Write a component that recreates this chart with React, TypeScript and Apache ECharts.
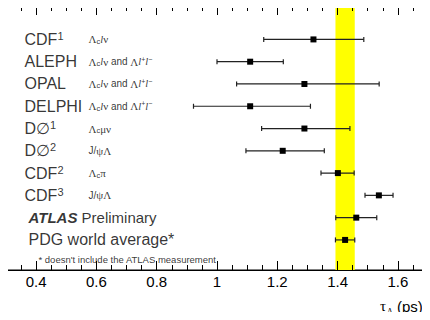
import React, { useEffect, useRef } from "react";
import * as echarts from "echarts";

// ---- data ----
const experiments = ["CDF", "ALEPH", "OPAL", "DELPHI", "D∅", "D∅", "CDF", "CDF", "ATLAS", "PDG world average*"];
const references = ["1", "", "", "", "1", "2", "2", "3", "", ""];
const channels = [
  "{g|Λ}{sub|c}{i|l}{g|ν}",
  "{g|Λ}{sub|c}{i|l}{g|ν}{s| and }{g|Λ}{i|l}{supc|+}{i|l}{supc|−}",
  "{g|Λ}{sub|c}{i|l}{g|ν}{s| and }{g|Λ}{i|l}{supc|+}{i|l}{supc|−}",
  "{g|Λ}{sub|c}{i|l}{g|ν}{s| and }{g|Λ}{i|l}{supc|+}{i|l}{supc|−}",
  "{g|Λ}{sub|c}{g|μν}",
  "{s|J/}{g|ψΛ}",
  "{g|Λ}{sub|c}{g|π}",
  "{s|J/}{g|ψΛ}",
  "",
  "",
];
const rowIndex = [0, 1, 2, 3, 4, 5, 6, 7, 8, 9];
const lifetimes = [1.32, 1.11, 1.29, 1.11, 1.29, 1.218, 1.401, 1.537, 1.462, 1.425];
const lowerBounds = [1.155, 1.0, 1.065, 0.922, 1.148, 1.096, 1.345, 1.491, 1.394, 1.393];
const upperBounds = [1.487, 1.22, 1.538, 1.31, 1.441, 1.356, 1.455, 1.584, 1.53, 1.457];
const pdgBand = [1.393, 1.457];
const footnote = "* doesn't include the ATLAS measurement";
const footnoteRow = 9.87;
const majorTicks = [0.4, 0.6, 0.8, 1.0, 1.2, 1.4, 1.6];
const minorTicks = [
  0.35, 0.45, 0.5, 0.55, 0.65, 0.7, 0.75, 0.85, 0.9, 0.95, 1.05, 1.1, 1.15,
  1.25, 1.3, 1.35, 1.45, 1.5, 1.55, 1.65,
];
const axisTitleParts = ["τ", "Λ", "b", "(ps)"];
const xMin = 0.3;
const xMax = 1.7;

export default function App() {
  const ref = useRef<HTMLDivElement>(null);
  useEffect(() => {
    const chart = echarts.init(ref.current!, null, { renderer: "svg" });
    const sans = "Liberation Sans, Arial, Helvetica, sans-serif";
    const serif = "Liberation Serif, Times New Roman, serif";

    const xCommon: any = {
      type: "value",
      min: xMin,
      max: xMax,
      gridIndex: 0,
      splitLine: { show: false },
      z: 10,
    };
    const tickStyle = { color: "#000", width: 1 };

    const rich: any = {
      n: { fontSize: 16, fontFamily: sans, color: "#000", lineHeight: 18 },
      sup: { fontSize: 11, fontFamily: sans, color: "#000", verticalAlign: "top", lineHeight: 10 },
      ab: { fontSize: 15, fontFamily: sans, fontWeight: "bold", fontStyle: "italic", color: "#000", lineHeight: 18 },
      n2: { fontSize: 15, fontFamily: sans, color: "#000", lineHeight: 18 },
      n3: { fontSize: 16, fontFamily: sans, color: "#000", lineHeight: 18 },
      g: { fontSize: 11, fontFamily: serif, color: "#000", lineHeight: 12 },
      s: { fontSize: 10, fontFamily: sans, color: "#000", lineHeight: 12 },
      i: { fontSize: 10.5, fontFamily: serif, fontStyle: "italic", color: "#000", lineHeight: 12 },
      sub: { fontSize: 7.5, fontFamily: sans, color: "#000", verticalAlign: "bottom", lineHeight: 6 },
      supc: { fontSize: 7, fontFamily: sans, color: "#000", verticalAlign: "top", lineHeight: 6 },
      fn: { fontSize: 9.5, fontFamily: sans, color: "#000", lineHeight: 10 },
    };

    const nameData = rowIndex.map((r, i) => {
      let text = "";
      let distance = 18;
      if (experiments[i] === "ATLAS") {
        text = "{ab|ATLAS}{n2| Preliminary}";
        distance = 22;
      } else if (i === 9) {
        text = `{n3|${experiments[i]}}`;
        distance = 22;
      } else {
        text = `{n|${experiments[i]}}` + (references[i] ? `{sup|${references[i]}}` : "");
      }
      return { value: [xMin, r], label: { show: true, position: "right", distance, formatter: text } };
    });
    const channelData = rowIndex
      .filter((i) => channels[i])
      .map((i) => ({
        value: [xMin, rowIndex[i]],
        label: { show: true, position: "right", distance: 82, formatter: channels[i] },
      }));
    const footData = [
      { value: [xMin, footnoteRow], label: { show: true, position: "right", distance: 32, formatter: `{fn|${footnote}}` } },
    ];

    const titleText = (text: string, x: number, y: number, font: string) => ({
      type: "text",
      x,
      y,
      style: { text, font, fill: "#000", align: "left", verticalAlign: "middle" },
    });

    const option: any = {
      animation: false,
      backgroundColor: "#fff",
      grid: {
        left: 6,
        top: 6,
        width: 422,
        height: 264,
        show: true,
        borderColor: "#000",
        borderWidth: 1,
        backgroundColor: "transparent",
      },
      xAxis: [
        {
          ...xCommon,
          position: "bottom",
          axisLine: { show: true, onZero: false, lineStyle: tickStyle },
          axisTick: { show: true, inside: true, length: 9, customValues: majorTicks, lineStyle: tickStyle },
          axisLabel: { show: true, customValues: majorTicks, margin: 4, fontSize: 15, fontFamily: sans, color: "#000" },
        },
        {
          ...xCommon,
          position: "bottom",
          axisLine: { show: false, onZero: false },
          axisTick: { show: true, inside: true, length: 5, customValues: minorTicks, lineStyle: tickStyle },
          axisLabel: { show: false },
        },
        {
          ...xCommon,
          position: "top",
          axisLine: { show: true, onZero: false, lineStyle: tickStyle },
          axisTick: { show: true, inside: true, length: 9, customValues: majorTicks, lineStyle: tickStyle },
          axisLabel: { show: false },
        },
        {
          ...xCommon,
          position: "top",
          axisLine: { show: false, onZero: false },
          axisTick: { show: true, inside: true, length: 5, customValues: minorTicks, lineStyle: tickStyle },
          axisLabel: { show: false },
        },
      ],
      yAxis: [
        {
          type: "value",
          min: -1.5,
          max: 10.35,
          inverse: true,
          position: "left",
          axisLine: { show: true, onZero: false, lineStyle: tickStyle },
          axisTick: { show: false },
          axisLabel: { show: false },
          splitLine: { show: false },
        },
        {
          type: "value",
          min: -1.5,
          max: 10.35,
          inverse: true,
          position: "right",
          axisLine: { show: true, onZero: false, lineStyle: tickStyle },
          axisTick: { show: false },
          axisLabel: { show: false },
          splitLine: { show: false },
        },
      ],
      series: [
        {
          type: "custom",
          name: "PDG band",
          xAxisIndex: 0,
          yAxisIndex: 0,
          z: 1,
          silent: true,
          data: [[pdgBand[0], pdgBand[1]]],
          encode: { x: [0, 1] },
          renderItem: (params: any, api: any) => {
            const cs = params.coordSys;
            const a = api.coord([api.value(0), 0]);
            const b = api.coord([api.value(1), 0]);
            return {
              type: "rect",
              shape: { x: a[0], y: cs.y, width: b[0] - a[0], height: cs.height },
              style: { fill: "#ffff00" },
            };
          },
        },
        {
          type: "custom",
          name: "measurements",
          xAxisIndex: 0,
          yAxisIndex: 0,
          z: 4,
          silent: true,
          data: rowIndex.map((r, i) => [lowerBounds[i], upperBounds[i], lifetimes[i], r]),
          encode: { x: [0, 1, 2], y: 3 },
          renderItem: (params: any, api: any) => {
            const row = api.value(3);
            const p0 = api.coord([api.value(0), row]);
            const p1 = api.coord([api.value(1), row]);
            const c = api.coord([api.value(2), row]);
            const ls = { stroke: "#222", lineWidth: 1.2 };
            const half = 2.5;
            const sq = 6;
            return {
              type: "group",
              children: [
                { type: "line", shape: { x1: p0[0], y1: p0[1], x2: p1[0], y2: p1[1] }, style: ls },
                { type: "line", shape: { x1: p0[0], y1: p0[1] - half, x2: p0[0], y2: p0[1] + half }, style: ls },
                { type: "line", shape: { x1: p1[0], y1: p1[1] - half, x2: p1[0], y2: p1[1] + half }, style: ls },
                { type: "rect", shape: { x: c[0] - sq / 2, y: c[1] - sq / 2, width: sq, height: sq }, style: { fill: "#000" } },
              ],
            };
          },
        },
        {
          type: "scatter",
          name: "names",
          xAxisIndex: 0,
          yAxisIndex: 0,
          symbolSize: 1,
          itemStyle: { color: "rgba(0,0,0,0)" },
          silent: true,
          z: 6,
          label: { show: true, rich },
          data: nameData,
        },
        {
          type: "scatter",
          name: "channels",
          xAxisIndex: 0,
          yAxisIndex: 0,
          symbolSize: 1,
          itemStyle: { color: "rgba(0,0,0,0)" },
          silent: true,
          z: 6,
          label: { show: true, rich },
          data: channelData,
        },
        {
          type: "scatter",
          name: "footnote",
          xAxisIndex: 0,
          yAxisIndex: 0,
          symbolSize: 1,
          itemStyle: { color: "rgba(0,0,0,0)" },
          silent: true,
          z: 6,
          label: { show: true, rich },
          data: footData,
        },
      ],
      graphic: [
        titleText(axisTitleParts[0], 380, 306, "15px Liberation Serif, serif"),
        titleText(axisTitleParts[1], 387, 311, "8px Liberation Serif, serif"),
        titleText(axisTitleParts[2], 393, 314, "6px Liberation Sans, sans-serif"),
        titleText(axisTitleParts[3], 397, 306, "15px Liberation Sans, sans-serif"),
      ],
    };
    chart.setOption(option);
    return () => chart.dispose();
  }, []);
  return <div ref={ref} style={{ width: 430, height: 320, margin: -8 }} />;
}
